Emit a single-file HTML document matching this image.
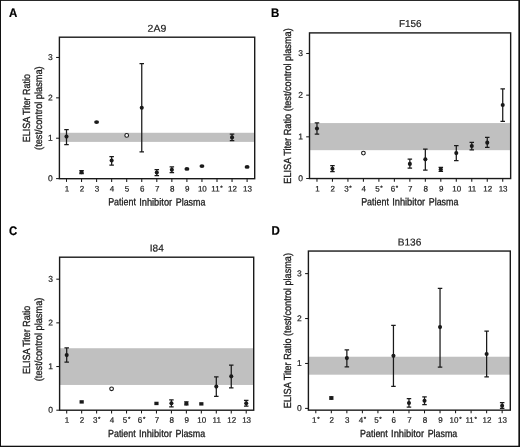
<!DOCTYPE html>
<html lang="en">
<head>
<meta charset="utf-8">
<title>ELISA Titer Ratio figure</title>
<style>
html,body{margin:0;padding:0;background:#fff;}
body{width:520px;height:447px;overflow:hidden;}
svg{display:block;font-family:"Liberation Sans", Arial, Helvetica, sans-serif;fill:#1a1a1a;text-rendering:geometricPrecision;}
.tk{font-size:8px;stroke:#1a1a1a;stroke-width:0.2px;}
.ty{font-size:8.5px;}
.st{font-size:6.2px;}
.ti{font-size:10px;stroke:#1a1a1a;stroke-width:0.2px;}
.lt{font-size:12.4px;font-weight:bold;fill:#000;stroke:#000;stroke-width:0.2px;}
.ax{font-size:10.3px;stroke:#1a1a1a;stroke-width:0.3px;}
</style>
</head>
<body>
<svg width="520" height="447" viewBox="0 0 520 447">
<rect x="0" y="0" width="520" height="447" fill="#fff"/>
<g class="panel" id="panelA">
<rect x="59.4" y="132.77" width="195.3" height="9.13" fill="#c0c0c0"/>
<rect x="59.4" y="37.2" width="195.3" height="141.5" fill="none" stroke="#1a1a1a" stroke-width="1.4"/>
<line x1="56.1" x2="59.4" y1="178.6" y2="178.6" stroke="#1a1a1a" stroke-width="1.05"/>
<text class="tk ty" x="52.8" y="181.25" transform="rotate(0.05 52.8 181.25)" text-anchor="end">0</text>
<line x1="56.1" x2="59.4" y1="138.22" y2="138.22" stroke="#1a1a1a" stroke-width="1.05"/>
<text class="tk ty" x="52.8" y="140.87" transform="rotate(0.05 52.8 140.87)" text-anchor="end">1</text>
<line x1="56.1" x2="59.4" y1="97.84" y2="97.84" stroke="#1a1a1a" stroke-width="1.05"/>
<text class="tk ty" x="52.8" y="100.49" transform="rotate(0.05 52.8 100.49)" text-anchor="end">2</text>
<line x1="56.1" x2="59.4" y1="57.46" y2="57.46" stroke="#1a1a1a" stroke-width="1.05"/>
<text class="tk ty" x="52.8" y="60.11" transform="rotate(0.05 52.8 60.11)" text-anchor="end">3</text>
<line x1="66.5" x2="66.5" y1="178.7" y2="181.9" stroke="#1a1a1a" stroke-width="1.05"/>
<text class="tk" x="66.9" y="191.5" transform="rotate(0.05 66.5 191.5)" text-anchor="middle">1</text>
<line x1="81.55" x2="81.55" y1="178.7" y2="181.9" stroke="#1a1a1a" stroke-width="1.05"/>
<text class="tk" x="81.95" y="191.5" transform="rotate(0.05 81.55 191.5)" text-anchor="middle">2</text>
<line x1="96.6" x2="96.6" y1="178.7" y2="181.9" stroke="#1a1a1a" stroke-width="1.05"/>
<text class="tk" x="97" y="191.5" transform="rotate(0.05 96.6 191.5)" text-anchor="middle">3</text>
<line x1="111.65" x2="111.65" y1="178.7" y2="181.9" stroke="#1a1a1a" stroke-width="1.05"/>
<text class="tk" x="112.05" y="191.5" transform="rotate(0.05 111.65 191.5)" text-anchor="middle">4</text>
<line x1="126.7" x2="126.7" y1="178.7" y2="181.9" stroke="#1a1a1a" stroke-width="1.05"/>
<text class="tk" x="127.1" y="191.5" transform="rotate(0.05 126.7 191.5)" text-anchor="middle">5</text>
<line x1="141.75" x2="141.75" y1="178.7" y2="181.9" stroke="#1a1a1a" stroke-width="1.05"/>
<text class="tk" x="142.15" y="191.5" transform="rotate(0.05 141.75 191.5)" text-anchor="middle">6</text>
<line x1="156.8" x2="156.8" y1="178.7" y2="181.9" stroke="#1a1a1a" stroke-width="1.05"/>
<text class="tk" x="157.2" y="191.5" transform="rotate(0.05 156.8 191.5)" text-anchor="middle">7</text>
<line x1="171.85" x2="171.85" y1="178.7" y2="181.9" stroke="#1a1a1a" stroke-width="1.05"/>
<text class="tk" x="172.25" y="191.5" transform="rotate(0.05 171.85 191.5)" text-anchor="middle">8</text>
<line x1="186.9" x2="186.9" y1="178.7" y2="181.9" stroke="#1a1a1a" stroke-width="1.05"/>
<text class="tk" x="187.3" y="191.5" transform="rotate(0.05 186.9 191.5)" text-anchor="middle">9</text>
<line x1="201.95" x2="201.95" y1="178.7" y2="181.9" stroke="#1a1a1a" stroke-width="1.05"/>
<text class="tk" x="202.35" y="191.5" transform="rotate(0.05 201.95 191.5)" text-anchor="middle">10</text>
<line x1="217" x2="217" y1="178.7" y2="181.9" stroke="#1a1a1a" stroke-width="1.05"/>
<text class="tk" x="217.05" y="191.5" transform="rotate(0.05 217 191.5)" text-anchor="middle">11<tspan class="st" dx="0.7" dy="-1.7">*</tspan></text>
<line x1="232.05" x2="232.05" y1="178.7" y2="181.9" stroke="#1a1a1a" stroke-width="1.05"/>
<text class="tk" x="232.45" y="191.5" transform="rotate(0.05 232.05 191.5)" text-anchor="middle">12</text>
<line x1="247.1" x2="247.1" y1="178.7" y2="181.9" stroke="#1a1a1a" stroke-width="1.05"/>
<text class="tk" x="247.5" y="191.5" transform="rotate(0.05 247.1 191.5)" text-anchor="middle">13</text>
<path d="M66.5 129.74V144.68M64.25 129.74h4.5M64.25 144.68h4.5" fill="none" stroke="#1a1a1a" stroke-width="1.25"/>
<circle cx="66.5" cy="136.6" r="2.05" fill="#1a1a1a"/>
<path d="M81.55 170.52V173.55M79.3 170.52h4.5M79.3 173.55h4.5" fill="none" stroke="#1a1a1a" stroke-width="1.25"/>
<circle cx="81.55" cy="172.14" r="2.05" fill="#1a1a1a"/>
<ellipse cx="96.6" cy="122.07" rx="2.45" ry="1.85" fill="#1a1a1a"/>
<path d="M111.65 156.59V165.07M109.4 156.59h4.5M109.4 165.07h4.5" fill="none" stroke="#1a1a1a" stroke-width="1.25"/>
<circle cx="111.65" cy="160.43" r="2.05" fill="#1a1a1a"/>
<circle cx="126.7" cy="135.39" r="1.85" fill="#fff" stroke="#1a1a1a" stroke-width="1.1"/>
<path d="M141.75 63.72V151.95M139.5 63.72h4.5M139.5 151.95h4.5" fill="none" stroke="#1a1a1a" stroke-width="1.25"/>
<circle cx="141.75" cy="107.73" r="2.05" fill="#1a1a1a"/>
<path d="M156.8 169.72V175.57M154.55 169.72h4.5M154.55 175.57h4.5" fill="none" stroke="#1a1a1a" stroke-width="1.25"/>
<circle cx="156.8" cy="172.54" r="2.05" fill="#1a1a1a"/>
<path d="M171.85 166.89V172.54M169.6 166.89h4.5M169.6 172.54h4.5" fill="none" stroke="#1a1a1a" stroke-width="1.25"/>
<circle cx="171.85" cy="169.72" r="2.05" fill="#1a1a1a"/>
<ellipse cx="186.9" cy="168.91" rx="2.45" ry="1.85" fill="#1a1a1a"/>
<ellipse cx="201.95" cy="166.08" rx="2.45" ry="1.85" fill="#1a1a1a"/>
<path d="M232.05 134.18V140.64M229.8 134.18h4.5M229.8 140.64h4.5" fill="none" stroke="#1a1a1a" stroke-width="1.25"/>
<circle cx="232.05" cy="137.41" r="2.05" fill="#1a1a1a"/>
<ellipse cx="247.1" cy="166.89" rx="2.45" ry="1.85" fill="#1a1a1a"/>
<text class="ti" x="156.9" y="31.7" transform="rotate(0.05 156.9 31.7)" text-anchor="middle" textLength="18.6" lengthAdjust="spacingAndGlyphs">2A9</text>
<text class="lt" x="8.9" y="16.9" transform="rotate(0.05 9.6 16.9)" textLength="8.3" lengthAdjust="spacingAndGlyphs">A</text>
<text class="ax" y="205.4" transform="rotate(0.04 156.6 205.4)"><tspan x="108.2" textLength="27.7" lengthAdjust="spacingAndGlyphs">Patient</tspan> <tspan x="139.15" textLength="33.05" lengthAdjust="spacingAndGlyphs">Inhibitor</tspan> <tspan x="175.75" textLength="29.6" lengthAdjust="spacingAndGlyphs">Plasma</tspan></text>
<text class="ax" transform="translate(30 142.25) rotate(-90)" textLength="68.3" lengthAdjust="spacingAndGlyphs">ELISA Titer Ratio</text>
<text class="ax" transform="translate(42.4 149.9) rotate(-90)" textLength="83.6" lengthAdjust="spacingAndGlyphs">(test/control plasma)</text>
</g>
<g class="panel" id="panelB">
<rect x="309.5" y="123.08" width="201.15" height="27.09" fill="#c0c0c0"/>
<rect x="309.5" y="32.9" width="201.15" height="145.65" fill="none" stroke="#1a1a1a" stroke-width="1.4"/>
<line x1="306.2" x2="309.5" y1="178.5" y2="178.5" stroke="#1a1a1a" stroke-width="1.05"/>
<text class="tk ty" x="302.9" y="181.15" transform="rotate(0.05 302.9 181.15)" text-anchor="end">0</text>
<line x1="306.2" x2="309.5" y1="136.83" y2="136.83" stroke="#1a1a1a" stroke-width="1.05"/>
<text class="tk ty" x="302.9" y="139.48" transform="rotate(0.05 302.9 139.48)" text-anchor="end">1</text>
<line x1="306.2" x2="309.5" y1="95.16" y2="95.16" stroke="#1a1a1a" stroke-width="1.05"/>
<text class="tk ty" x="302.9" y="97.81" transform="rotate(0.05 302.9 97.81)" text-anchor="end">2</text>
<line x1="306.2" x2="309.5" y1="53.49" y2="53.49" stroke="#1a1a1a" stroke-width="1.05"/>
<text class="tk ty" x="302.9" y="56.14" transform="rotate(0.05 302.9 56.14)" text-anchor="end">3</text>
<line x1="316.97" x2="316.97" y1="178.55" y2="181.75" stroke="#1a1a1a" stroke-width="1.05"/>
<text class="tk" x="317.37" y="191.5" transform="rotate(0.05 316.97 191.5)" text-anchor="middle">1</text>
<line x1="332.45" x2="332.45" y1="178.55" y2="181.75" stroke="#1a1a1a" stroke-width="1.05"/>
<text class="tk" x="332.85" y="191.5" transform="rotate(0.05 332.45 191.5)" text-anchor="middle">2</text>
<line x1="347.93" x2="347.93" y1="178.55" y2="181.75" stroke="#1a1a1a" stroke-width="1.05"/>
<text class="tk" x="347.98" y="191.5" transform="rotate(0.05 347.93 191.5)" text-anchor="middle">3<tspan class="st" dx="0.7" dy="-1.7">*</tspan></text>
<line x1="363.41" x2="363.41" y1="178.55" y2="181.75" stroke="#1a1a1a" stroke-width="1.05"/>
<text class="tk" x="363.81" y="191.5" transform="rotate(0.05 363.41 191.5)" text-anchor="middle">4</text>
<line x1="378.89" x2="378.89" y1="178.55" y2="181.75" stroke="#1a1a1a" stroke-width="1.05"/>
<text class="tk" x="378.94" y="191.5" transform="rotate(0.05 378.89 191.5)" text-anchor="middle">5<tspan class="st" dx="0.7" dy="-1.7">*</tspan></text>
<line x1="394.37" x2="394.37" y1="178.55" y2="181.75" stroke="#1a1a1a" stroke-width="1.05"/>
<text class="tk" x="394.42" y="191.5" transform="rotate(0.05 394.37 191.5)" text-anchor="middle">6<tspan class="st" dx="0.7" dy="-1.7">*</tspan></text>
<line x1="409.85" x2="409.85" y1="178.55" y2="181.75" stroke="#1a1a1a" stroke-width="1.05"/>
<text class="tk" x="410.25" y="191.5" transform="rotate(0.05 409.85 191.5)" text-anchor="middle">7</text>
<line x1="425.33" x2="425.33" y1="178.55" y2="181.75" stroke="#1a1a1a" stroke-width="1.05"/>
<text class="tk" x="425.73" y="191.5" transform="rotate(0.05 425.33 191.5)" text-anchor="middle">8</text>
<line x1="440.81" x2="440.81" y1="178.55" y2="181.75" stroke="#1a1a1a" stroke-width="1.05"/>
<text class="tk" x="441.21" y="191.5" transform="rotate(0.05 440.81 191.5)" text-anchor="middle">9</text>
<line x1="456.29" x2="456.29" y1="178.55" y2="181.75" stroke="#1a1a1a" stroke-width="1.05"/>
<text class="tk" x="456.69" y="191.5" transform="rotate(0.05 456.29 191.5)" text-anchor="middle">10</text>
<line x1="471.77" x2="471.77" y1="178.55" y2="181.75" stroke="#1a1a1a" stroke-width="1.05"/>
<text class="tk" x="472.17" y="191.5" transform="rotate(0.05 471.77 191.5)" text-anchor="middle">11</text>
<line x1="487.25" x2="487.25" y1="178.55" y2="181.75" stroke="#1a1a1a" stroke-width="1.05"/>
<text class="tk" x="487.65" y="191.5" transform="rotate(0.05 487.25 191.5)" text-anchor="middle">12</text>
<line x1="502.73" x2="502.73" y1="178.55" y2="181.75" stroke="#1a1a1a" stroke-width="1.05"/>
<text class="tk" x="503.13" y="191.5" transform="rotate(0.05 502.73 191.5)" text-anchor="middle">13</text>
<path d="M316.97 122.87V134.12M314.72 122.87h4.5M314.72 134.12h4.5" fill="none" stroke="#1a1a1a" stroke-width="1.25"/>
<circle cx="316.97" cy="128.5" r="2.05" fill="#1a1a1a"/>
<path d="M332.45 165.58V171.62M330.2 165.58h4.5M330.2 171.62h4.5" fill="none" stroke="#1a1a1a" stroke-width="1.25"/>
<circle cx="332.45" cy="168.71" r="2.05" fill="#1a1a1a"/>
<circle cx="363.41" cy="153.08" r="1.85" fill="#fff" stroke="#1a1a1a" stroke-width="1.1"/>
<path d="M409.85 159.12V168.08M407.6 159.12h4.5M407.6 168.08h4.5" fill="none" stroke="#1a1a1a" stroke-width="1.25"/>
<circle cx="409.85" cy="163.92" r="2.05" fill="#1a1a1a"/>
<path d="M425.33 149.12V170.17M423.08 149.12h4.5M423.08 170.17h4.5" fill="none" stroke="#1a1a1a" stroke-width="1.25"/>
<circle cx="425.33" cy="159.33" r="2.05" fill="#1a1a1a"/>
<path d="M440.81 167.46V171.42M438.56 167.46h4.5M438.56 171.42h4.5" fill="none" stroke="#1a1a1a" stroke-width="1.25"/>
<circle cx="440.81" cy="169.33" r="2.05" fill="#1a1a1a"/>
<path d="M456.29 145.58V160.58M454.04 145.58h4.5M454.04 160.58h4.5" fill="none" stroke="#1a1a1a" stroke-width="1.25"/>
<circle cx="456.29" cy="153.08" r="2.05" fill="#1a1a1a"/>
<path d="M471.77 142.25V149.75M469.52 142.25h4.5M469.52 149.75h4.5" fill="none" stroke="#1a1a1a" stroke-width="1.25"/>
<circle cx="471.77" cy="146" r="2.05" fill="#1a1a1a"/>
<path d="M487.25 137.46V147.25M485 137.46h4.5M485 147.25h4.5" fill="none" stroke="#1a1a1a" stroke-width="1.25"/>
<circle cx="487.25" cy="142.66" r="2.05" fill="#1a1a1a"/>
<path d="M502.73 88.91V121.41M500.48 88.91h4.5M500.48 121.41h4.5" fill="none" stroke="#1a1a1a" stroke-width="1.25"/>
<circle cx="502.73" cy="104.95" r="2.05" fill="#1a1a1a"/>
<text class="ti" x="410.3" y="27.05" transform="rotate(0.05 410.3 27.05)" text-anchor="middle" textLength="22.6" lengthAdjust="spacingAndGlyphs">F156</text>
<text class="lt" x="271" y="16.9" transform="rotate(0.05 271.7 16.9)" textLength="8.3" lengthAdjust="spacingAndGlyphs">B</text>
<text class="ax" y="205.3" transform="rotate(0.04 409.6 205.3)"><tspan x="361.2" textLength="27.7" lengthAdjust="spacingAndGlyphs">Patient</tspan> <tspan x="392.15" textLength="33.05" lengthAdjust="spacingAndGlyphs">Inhibitor</tspan> <tspan x="428.75" textLength="29.6" lengthAdjust="spacingAndGlyphs">Plasma</tspan></text>
<text class="ax" transform="translate(291.3 183.7) rotate(-90)" textLength="155.4" lengthAdjust="spacingAndGlyphs">ELISA Titer Ratio (test/control plasma)</text>
</g>
<g class="panel" id="panelC">
<rect x="59.6" y="348.23" width="194.1" height="36.73" fill="#c0c0c0"/>
<rect x="59.6" y="257.2" width="194.1" height="153" fill="none" stroke="#1a1a1a" stroke-width="1.4"/>
<line x1="56.3" x2="59.6" y1="410.2" y2="410.2" stroke="#1a1a1a" stroke-width="1.05"/>
<text class="tk ty" x="53" y="412.85" transform="rotate(0.05 53 412.85)" text-anchor="end">0</text>
<line x1="56.3" x2="59.6" y1="366.53" y2="366.53" stroke="#1a1a1a" stroke-width="1.05"/>
<text class="tk ty" x="53" y="369.18" transform="rotate(0.05 53 369.18)" text-anchor="end">1</text>
<line x1="56.3" x2="59.6" y1="322.86" y2="322.86" stroke="#1a1a1a" stroke-width="1.05"/>
<text class="tk ty" x="53" y="325.51" transform="rotate(0.05 53 325.51)" text-anchor="end">2</text>
<line x1="56.3" x2="59.6" y1="279.19" y2="279.19" stroke="#1a1a1a" stroke-width="1.05"/>
<text class="tk ty" x="53" y="281.84" transform="rotate(0.05 53 281.84)" text-anchor="end">3</text>
<line x1="66.7" x2="66.7" y1="410.2" y2="413.4" stroke="#1a1a1a" stroke-width="1.05"/>
<text class="tk" x="67.1" y="422.8" transform="rotate(0.05 66.7 422.8)" text-anchor="middle">1</text>
<line x1="81.66" x2="81.66" y1="410.2" y2="413.4" stroke="#1a1a1a" stroke-width="1.05"/>
<text class="tk" x="82.06" y="422.8" transform="rotate(0.05 81.66 422.8)" text-anchor="middle">2</text>
<line x1="96.62" x2="96.62" y1="410.2" y2="413.4" stroke="#1a1a1a" stroke-width="1.05"/>
<text class="tk" x="96.67" y="422.8" transform="rotate(0.05 96.62 422.8)" text-anchor="middle">3<tspan class="st" dx="0.7" dy="-1.7">*</tspan></text>
<line x1="111.58" x2="111.58" y1="410.2" y2="413.4" stroke="#1a1a1a" stroke-width="1.05"/>
<text class="tk" x="111.98" y="422.8" transform="rotate(0.05 111.58 422.8)" text-anchor="middle">4</text>
<line x1="126.54" x2="126.54" y1="410.2" y2="413.4" stroke="#1a1a1a" stroke-width="1.05"/>
<text class="tk" x="126.59" y="422.8" transform="rotate(0.05 126.54 422.8)" text-anchor="middle">5<tspan class="st" dx="0.7" dy="-1.7">*</tspan></text>
<line x1="141.5" x2="141.5" y1="410.2" y2="413.4" stroke="#1a1a1a" stroke-width="1.05"/>
<text class="tk" x="141.55" y="422.8" transform="rotate(0.05 141.5 422.8)" text-anchor="middle">6<tspan class="st" dx="0.7" dy="-1.7">*</tspan></text>
<line x1="156.46" x2="156.46" y1="410.2" y2="413.4" stroke="#1a1a1a" stroke-width="1.05"/>
<text class="tk" x="156.86" y="422.8" transform="rotate(0.05 156.46 422.8)" text-anchor="middle">7</text>
<line x1="171.42" x2="171.42" y1="410.2" y2="413.4" stroke="#1a1a1a" stroke-width="1.05"/>
<text class="tk" x="171.82" y="422.8" transform="rotate(0.05 171.42 422.8)" text-anchor="middle">8</text>
<line x1="186.38" x2="186.38" y1="410.2" y2="413.4" stroke="#1a1a1a" stroke-width="1.05"/>
<text class="tk" x="186.78" y="422.8" transform="rotate(0.05 186.38 422.8)" text-anchor="middle">9</text>
<line x1="201.34" x2="201.34" y1="410.2" y2="413.4" stroke="#1a1a1a" stroke-width="1.05"/>
<text class="tk" x="201.74" y="422.8" transform="rotate(0.05 201.34 422.8)" text-anchor="middle">10</text>
<line x1="216.3" x2="216.3" y1="410.2" y2="413.4" stroke="#1a1a1a" stroke-width="1.05"/>
<text class="tk" x="216.7" y="422.8" transform="rotate(0.05 216.3 422.8)" text-anchor="middle">11</text>
<line x1="231.26" x2="231.26" y1="410.2" y2="413.4" stroke="#1a1a1a" stroke-width="1.05"/>
<text class="tk" x="231.66" y="422.8" transform="rotate(0.05 231.26 422.8)" text-anchor="middle">12</text>
<line x1="246.22" x2="246.22" y1="410.2" y2="413.4" stroke="#1a1a1a" stroke-width="1.05"/>
<text class="tk" x="246.62" y="422.8" transform="rotate(0.05 246.22 422.8)" text-anchor="middle">13</text>
<path d="M66.7 347.97V362.16M64.45 347.97h4.5M64.45 362.16h4.5" fill="none" stroke="#1a1a1a" stroke-width="1.25"/>
<circle cx="66.7" cy="355.09" r="2.05" fill="#1a1a1a"/>
<rect x="79.56" y="400.2" width="4.2" height="3.4" fill="#1a1a1a"/>
<circle cx="111.58" cy="388.8" r="1.85" fill="#fff" stroke="#1a1a1a" stroke-width="1.1"/>
<rect x="154.36" y="401.73" width="4.2" height="3.4" fill="#1a1a1a"/>
<path d="M171.42 399.94V406.92M169.17 399.94h4.5M169.17 406.92h4.5" fill="none" stroke="#1a1a1a" stroke-width="1.25"/>
<circle cx="171.42" cy="403.21" r="2.05" fill="#1a1a1a"/>
<path d="M186.38 401.9V404.96M184.13 401.9h4.5M184.13 404.96h4.5" fill="none" stroke="#1a1a1a" stroke-width="1.25"/>
<circle cx="186.38" cy="403.43" r="2.05" fill="#1a1a1a"/>
<rect x="199.24" y="402.17" width="4.2" height="3.4" fill="#1a1a1a"/>
<path d="M216.3 376.79V396.44M214.05 376.79h4.5M214.05 396.44h4.5" fill="none" stroke="#1a1a1a" stroke-width="1.25"/>
<circle cx="216.3" cy="386.62" r="2.05" fill="#1a1a1a"/>
<path d="M231.26 365V387.93M229.01 365h4.5M229.01 387.93h4.5" fill="none" stroke="#1a1a1a" stroke-width="1.25"/>
<circle cx="231.26" cy="376.36" r="2.05" fill="#1a1a1a"/>
<path d="M246.22 400.37V406.05M243.97 400.37h4.5M243.97 406.05h4.5" fill="none" stroke="#1a1a1a" stroke-width="1.25"/>
<circle cx="246.22" cy="403.21" r="2.05" fill="#1a1a1a"/>
<text class="ti" x="156.8" y="251.6" transform="rotate(0.05 156.8 251.6)" text-anchor="middle" textLength="14" lengthAdjust="spacingAndGlyphs">I84</text>
<text class="lt" x="8.9" y="235" transform="rotate(0.05 9.6 235)" textLength="8.3" lengthAdjust="spacingAndGlyphs">C</text>
<text class="ax" y="437.1" transform="rotate(0.04 156.4 437.1)"><tspan x="108" textLength="27.7" lengthAdjust="spacingAndGlyphs">Patient</tspan> <tspan x="138.95" textLength="33.05" lengthAdjust="spacingAndGlyphs">Inhibitor</tspan> <tspan x="175.55" textLength="29.6" lengthAdjust="spacingAndGlyphs">Plasma</tspan></text>
<text class="ax" transform="translate(30 374.05) rotate(-90)" textLength="68.3" lengthAdjust="spacingAndGlyphs">ELISA Titer Ratio</text>
<text class="ax" transform="translate(42.4 381.2) rotate(-90)" textLength="83.6" lengthAdjust="spacingAndGlyphs">(test/control plasma)</text>
</g>
<g class="panel" id="panelD">
<rect x="308.4" y="356.73" width="201.9" height="17.97" fill="#c0c0c0"/>
<rect x="308.4" y="251.05" width="201.9" height="159.1" fill="none" stroke="#1a1a1a" stroke-width="1.4"/>
<line x1="305.1" x2="308.4" y1="408.4" y2="408.4" stroke="#1a1a1a" stroke-width="1.05"/>
<text class="tk ty" x="301.8" y="411.05" transform="rotate(0.05 301.8 411.05)" text-anchor="end">0</text>
<line x1="305.1" x2="308.4" y1="363.47" y2="363.47" stroke="#1a1a1a" stroke-width="1.05"/>
<text class="tk ty" x="301.8" y="366.12" transform="rotate(0.05 301.8 366.12)" text-anchor="end">1</text>
<line x1="305.1" x2="308.4" y1="318.54" y2="318.54" stroke="#1a1a1a" stroke-width="1.05"/>
<text class="tk ty" x="301.8" y="321.19" transform="rotate(0.05 301.8 321.19)" text-anchor="end">2</text>
<line x1="305.1" x2="308.4" y1="273.61" y2="273.61" stroke="#1a1a1a" stroke-width="1.05"/>
<text class="tk ty" x="301.8" y="276.26" transform="rotate(0.05 301.8 276.26)" text-anchor="end">3</text>
<line x1="315.8" x2="315.8" y1="410.15" y2="413.35" stroke="#1a1a1a" stroke-width="1.05"/>
<text class="tk" x="315.85" y="422.8" transform="rotate(0.05 315.8 422.8)" text-anchor="middle">1<tspan class="st" dx="0.7" dy="-1.7">*</tspan></text>
<line x1="331.33" x2="331.33" y1="410.15" y2="413.35" stroke="#1a1a1a" stroke-width="1.05"/>
<text class="tk" x="331.73" y="422.8" transform="rotate(0.05 331.33 422.8)" text-anchor="middle">2</text>
<line x1="346.86" x2="346.86" y1="410.15" y2="413.35" stroke="#1a1a1a" stroke-width="1.05"/>
<text class="tk" x="347.26" y="422.8" transform="rotate(0.05 346.86 422.8)" text-anchor="middle">3</text>
<line x1="362.39" x2="362.39" y1="410.15" y2="413.35" stroke="#1a1a1a" stroke-width="1.05"/>
<text class="tk" x="362.44" y="422.8" transform="rotate(0.05 362.39 422.8)" text-anchor="middle">4<tspan class="st" dx="0.7" dy="-1.7">*</tspan></text>
<line x1="377.92" x2="377.92" y1="410.15" y2="413.35" stroke="#1a1a1a" stroke-width="1.05"/>
<text class="tk" x="377.97" y="422.8" transform="rotate(0.05 377.92 422.8)" text-anchor="middle">5<tspan class="st" dx="0.7" dy="-1.7">*</tspan></text>
<line x1="393.45" x2="393.45" y1="410.15" y2="413.35" stroke="#1a1a1a" stroke-width="1.05"/>
<text class="tk" x="393.85" y="422.8" transform="rotate(0.05 393.45 422.8)" text-anchor="middle">6</text>
<line x1="408.98" x2="408.98" y1="410.15" y2="413.35" stroke="#1a1a1a" stroke-width="1.05"/>
<text class="tk" x="409.38" y="422.8" transform="rotate(0.05 408.98 422.8)" text-anchor="middle">7</text>
<line x1="424.51" x2="424.51" y1="410.15" y2="413.35" stroke="#1a1a1a" stroke-width="1.05"/>
<text class="tk" x="424.91" y="422.8" transform="rotate(0.05 424.51 422.8)" text-anchor="middle">8</text>
<line x1="440.04" x2="440.04" y1="410.15" y2="413.35" stroke="#1a1a1a" stroke-width="1.05"/>
<text class="tk" x="440.44" y="422.8" transform="rotate(0.05 440.04 422.8)" text-anchor="middle">9</text>
<line x1="455.57" x2="455.57" y1="410.15" y2="413.35" stroke="#1a1a1a" stroke-width="1.05"/>
<text class="tk" x="455.62" y="422.8" transform="rotate(0.05 455.57 422.8)" text-anchor="middle">10<tspan class="st" dx="0.7" dy="-1.7">*</tspan></text>
<line x1="471.1" x2="471.1" y1="410.15" y2="413.35" stroke="#1a1a1a" stroke-width="1.05"/>
<text class="tk" x="471.15" y="422.8" transform="rotate(0.05 471.1 422.8)" text-anchor="middle">11<tspan class="st" dx="0.7" dy="-1.7">*</tspan></text>
<line x1="486.63" x2="486.63" y1="410.15" y2="413.35" stroke="#1a1a1a" stroke-width="1.05"/>
<text class="tk" x="487.03" y="422.8" transform="rotate(0.05 486.63 422.8)" text-anchor="middle">12</text>
<line x1="502.16" x2="502.16" y1="410.15" y2="413.35" stroke="#1a1a1a" stroke-width="1.05"/>
<text class="tk" x="502.56" y="422.8" transform="rotate(0.05 502.16 422.8)" text-anchor="middle">13</text>
<path d="M331.33 396.94V399.19M329.08 396.94h4.5M329.08 399.19h4.5" fill="none" stroke="#1a1a1a" stroke-width="1.25"/>
<circle cx="331.33" cy="398.07" r="2.05" fill="#1a1a1a"/>
<path d="M346.86 349.77V366.84M344.61 349.77h4.5M344.61 366.84h4.5" fill="none" stroke="#1a1a1a" stroke-width="1.25"/>
<circle cx="346.86" cy="358.08" r="2.05" fill="#1a1a1a"/>
<path d="M393.45 325.28V386.38M391.2 325.28h4.5M391.2 386.38h4.5" fill="none" stroke="#1a1a1a" stroke-width="1.25"/>
<circle cx="393.45" cy="355.83" r="2.05" fill="#1a1a1a"/>
<path d="M408.98 398.74V407.05M406.73 398.74h4.5M406.73 407.05h4.5" fill="none" stroke="#1a1a1a" stroke-width="1.25"/>
<circle cx="408.98" cy="403.01" r="2.05" fill="#1a1a1a"/>
<path d="M424.51 396.94V404.58M422.26 396.94h4.5M422.26 404.58h4.5" fill="none" stroke="#1a1a1a" stroke-width="1.25"/>
<circle cx="424.51" cy="400.76" r="2.05" fill="#1a1a1a"/>
<path d="M440.04 288.44V367.06M437.79 288.44h4.5M437.79 367.06h4.5" fill="none" stroke="#1a1a1a" stroke-width="1.25"/>
<circle cx="440.04" cy="327.08" r="2.05" fill="#1a1a1a"/>
<path d="M486.63 331.12V376.95M484.38 331.12h4.5M484.38 376.95h4.5" fill="none" stroke="#1a1a1a" stroke-width="1.25"/>
<circle cx="486.63" cy="354.03" r="2.05" fill="#1a1a1a"/>
<path d="M502.16 402.56V408.4M499.91 402.56h4.5M499.91 408.4h4.5" fill="none" stroke="#1a1a1a" stroke-width="1.25"/>
<circle cx="502.16" cy="405.7" r="2.05" fill="#1a1a1a"/>
<text class="ti" x="409.5" y="245.5" transform="rotate(0.05 409.5 245.5)" text-anchor="middle" textLength="23.6" lengthAdjust="spacingAndGlyphs">B136</text>
<text class="lt" x="271.5" y="234.8" transform="rotate(0.05 272.2 234.8)" textLength="8.3" lengthAdjust="spacingAndGlyphs">D</text>
<text class="ax" y="437.05" transform="rotate(0.04 408.5 437.05)"><tspan x="360.1" textLength="27.7" lengthAdjust="spacingAndGlyphs">Patient</tspan> <tspan x="391.05" textLength="33.05" lengthAdjust="spacingAndGlyphs">Inhibitor</tspan> <tspan x="427.65" textLength="29.6" lengthAdjust="spacingAndGlyphs">Plasma</tspan></text>
<text class="ax" transform="translate(291.2 408.2) rotate(-90)" textLength="155.2" lengthAdjust="spacingAndGlyphs">ELISA Titer Ratio (test/control plasma)</text>
</g>
<rect x="0" y="0" width="520" height="0.9" fill="#111"/>
<rect x="0" y="0" width="1" height="447" fill="#111"/>
<rect x="518.35" y="0" width="1.65" height="447" fill="#111"/>
<rect x="0" y="445.7" width="520" height="1.3" fill="#111"/>
</svg>
</body>
</html>
